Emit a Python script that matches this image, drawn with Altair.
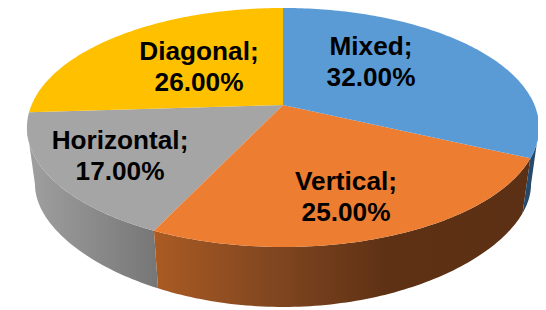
import math
import altair as alt
import pandas as pd

names = ["Mixed", "Vertical", "Horizontal", "Diagonal"]
shares = [32.0, 25.0, 17.0, 26.0]
colors = ["#5B9BD5", "#ED7D31", "#A5A5A5", "#FFC000"]
label_x = [371, 346, 120, 199]
label_y = [47, 182, 141, 52]

W, H = 530, 301
CX = 283
TOP = dict(cy=105.0, a=251.5, b=115.3, ky=0.188)
BOT = dict(cy=164.4, a=243.6, b=99.8, ky=0.30)
K = 0.188


def project(deg, disc):
    t = math.radians(deg)
    u, v = math.sin(t), -math.cos(t)
    return CX + disc["a"] * u / (1 - K * v), disc["cy"] + disc["b"] * v / (1 - disc["ky"] * v)


def arc(start, end, disc):
    n = max(2, int(abs(end - start)) + 1)
    return [project(start + (end - start) * i / (n - 1), disc) for i in range(n)]


xs = alt.Scale(domain=[8, 8 + W], nice=False, zero=False)
ys = alt.Scale(domain=[8 + H, 8], nice=False, zero=False)


def poly(points, fill):
    df = pd.DataFrame({"x": [p[0] for p in points], "y": [p[1] for p in points], "i": range(len(points))})
    return alt.Chart(df).mark_line(fill=fill, strokeWidth=0, interpolate="linear").encode(
        x=alt.X("x:Q", scale=xs, axis=None),
        y=alt.Y("y:Q", scale=ys, axis=None),
        order=alt.Order("i:Q"),
    )


def grad(*stops):
    return alt.Gradient(
        gradient="linear",
        stops=[alt.GradientStop(color=c, offset=o) for o, c in stops],
        x1=0, x2=1, y1=0, y2=0,
    )


edges = [0.0]
for s in shares:
    edges.append(edges[-1] + s / sum(shares) * 360)

LEFT_TURN, RIGHT_TURN = 259.2, 100.8
sides = [
    poly(arc(edges[2], LEFT_TURN, TOP) + arc(LEFT_TURN, edges[2], BOT), grad((0, "#A0A0A0"), (1, "#767676"))),
    poly(arc(edges[1], edges[2], TOP) + arc(edges[2], edges[1], BOT),
         grad((0, "#AA5B23"), (0.32, "#804620"), (0.62, "#5E3114"), (1, "#5C3014"))),
    poly(arc(RIGHT_TURN, edges[1], TOP) + arc(edges[1], RIGHT_TURN, BOT), "#264A6C"),
]
tops = [
    poly([(CX, TOP["cy"])] + arc(edges[i], edges[i + 1], TOP), colors[i])
    for i in [2, 1, 3, 0]
]

labels = alt.Chart(pd.DataFrame({
    "x": label_x, "y": label_y,
    "t": [f"{n};\n{s:.2f}%" for n, s in zip(names, shares)],
})).mark_text(
    font="Liberation Sans", fontSize=26.2, fontWeight="bold", color="#000000",
    lineBreak="\n", lineHeight=31, align="center", baseline="middle",
).encode(
    x=alt.X("x:Q", scale=xs, axis=None),
    y=alt.Y("y:Q", scale=ys, axis=None),
    text="t:N",
)

chart = alt.layer(*sides, *tops, labels).properties(
    width=W, height=H, padding=0, background="white",
    autosize=alt.AutoSizeParams(type="none"),
).configure_view(stroke=None)

chart.save("out.html", embed_options={"renderer": "svg", "actions": False})
